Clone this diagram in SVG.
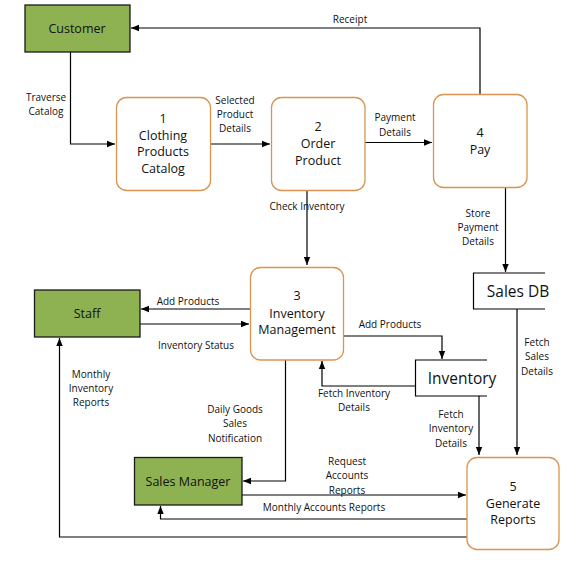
<svg xmlns="http://www.w3.org/2000/svg" width="577" height="568" viewBox="0 0 577 568">
<defs>
<style>
.ent{fill:#8EB152;stroke:#1a1a1a;stroke-width:1.3}
.proc{fill:#fff;stroke:#D9954F;stroke-width:1.3}
.store{fill:none;stroke:#000;stroke-width:1.2}
.ln{fill:none;stroke:#000;stroke-width:1.2}
text{font-family:"Open Sans","Liberation Sans",sans-serif;fill:#111;text-anchor:middle}
.nt{font-size:12.5px}
.lb{font-size:10px}
.st{font-size:15.5px}
</style>
<marker id="ah" viewBox="0 0 10 10" refX="10" refY="5" markerWidth="8" markerHeight="8" markerUnits="userSpaceOnUse" orient="auto"><path d="M0,1 L10,5 L0,9 Z" fill="#000"/></marker>
</defs>
<rect width="577" height="568" fill="#fff"/>
<g id="connectors">
<path class="ln" d="M480,94 V28 H131" marker-end="url(#ah)"/>
<path class="ln" d="M70.5,52 V144 H115" marker-end="url(#ah)"/>
<path class="ln" d="M210,144 H270" marker-end="url(#ah)"/>
<path class="ln" d="M365,142.5 H432" marker-end="url(#ah)"/>
<path class="ln" d="M307,190 V265" marker-end="url(#ah)"/>
<path class="ln" d="M505.5,187 V272" marker-end="url(#ah)"/>
<path class="ln" d="M250,309 H141" marker-end="url(#ah)"/>
<path class="ln" d="M140,324 H249" marker-end="url(#ah)"/>
<path class="ln" d="M343,336 H442 V359" marker-end="url(#ah)"/>
<path class="ln" d="M415,386 H322 V361" marker-end="url(#ah)"/>
<path class="ln" d="M479,396 V455" marker-end="url(#ah)"/>
<path class="ln" d="M517,309 V455" marker-end="url(#ah)"/>
<path class="ln" d="M285.5,360 V481 H243" marker-end="url(#ah)"/>
<path class="ln" d="M242,495 H466" marker-end="url(#ah)"/>
<path class="ln" d="M467,519 H160.5 V506" marker-end="url(#ah)"/>
<path class="ln" d="M467,537 H59.5 V338" marker-end="url(#ah)"/>
<g class="lb">
<text x="350" y="23">Receipt</text>
<text x="46" y="101">Traverse</text>
<text x="46" y="115">Catalog</text>
<text x="235" y="104">Selected</text>
<text x="235" y="118">Product</text>
<text x="235" y="132">Details</text>
<text x="395" y="121">Payment</text>
<text x="395" y="136">Details</text>
<text x="307" y="210">Check Inventory</text>
<text x="478" y="217">Store</text>
<text x="478" y="231">Payment</text>
<text x="478" y="245">Details</text>
<text x="188" y="305">Add Products</text>
<text x="196" y="349">Inventory Status</text>
<text x="390" y="328">Add Products</text>
<text x="537" y="346">Fetch</text>
<text x="537" y="360">Sales</text>
<text x="537" y="375">Details</text>
<text x="91" y="378">Monthly</text>
<text x="91" y="392">Inventory</text>
<text x="91" y="406">Reports</text>
<text x="354" y="397">Fetch Inventory</text>
<text x="354" y="411">Details</text>
<text x="451" y="418">Fetch</text>
<text x="451" y="432">Inventory</text>
<text x="451" y="447">Details</text>
<text x="235" y="413">Daily Goods</text>
<text x="235" y="427">Sales</text>
<text x="235" y="442">Notification</text>
<text x="347" y="465">Request</text>
<text x="347" y="479">Accounts</text>
<text x="347" y="494">Reports</text>
<text x="324" y="511">Monthly Accounts Reports</text>
</g>
</g>
<g id="customer"><rect class="ent" x="25" y="5" width="105" height="47"/><text class="nt" x="77" y="33">Customer</text></g>
<g id="staff"><rect class="ent" x="34.5" y="290" width="105.5" height="47"/><text class="nt" x="87" y="318">Staff</text></g>
<g id="salesmanager"><rect class="ent" x="134.5" y="457.5" width="107.5" height="47.5"/><text class="nt" x="188" y="486">Sales Manager</text></g>
<g id="p1"><rect class="proc" x="116.5" y="97.5" width="94" height="93" rx="10"/><text class="nt" x="163" y="123">1</text><text class="nt" x="163" y="140">Clothing</text><text class="nt" x="163" y="156">Products</text><text class="nt" x="163" y="173">Catalog</text></g>
<g id="p2"><rect class="proc" x="271.5" y="97.5" width="93.5" height="93" rx="10"/><text class="nt" x="318" y="131">2</text><text class="nt" x="318" y="148">Order</text><text class="nt" x="318" y="165">Product</text></g>
<g id="p4"><rect class="proc" x="433.5" y="94.5" width="93.5" height="93" rx="10"/><text class="nt" x="480" y="137">4</text><text class="nt" x="480" y="154">Pay</text></g>
<g id="p3"><rect class="proc" x="250.5" y="267.5" width="93" height="92.5" rx="10"/><text class="nt" x="297" y="300">3</text><text class="nt" x="297" y="318">Inventory</text><text class="nt" x="297" y="334">Management</text></g>
<g id="p5"><rect class="proc" x="467" y="457.5" width="92" height="92" rx="10"/><text class="nt" x="513" y="491">5</text><text class="nt" x="513" y="508">Generate</text><text class="nt" x="513" y="524">Reports</text></g>
<g id="salesdb"><path class="store" d="M545,273 H473.5 V309 H545"/><text class="st" x="518" y="297">Sales DB</text></g>
<g id="inventory"><path class="store" d="M487,360 H415.5 V396 H487"/><text class="st" x="462" y="384">Inventory</text></g>
</svg>
